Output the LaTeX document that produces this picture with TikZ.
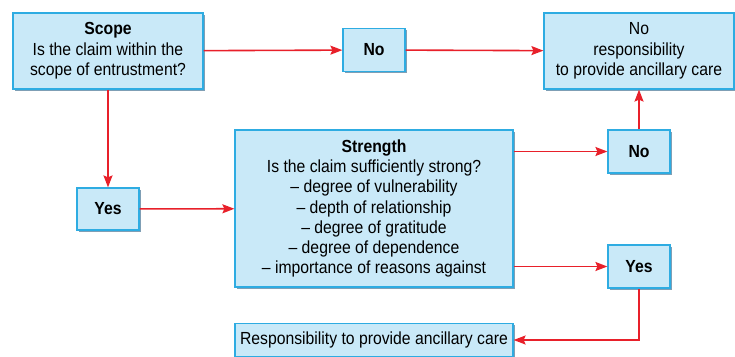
\documentclass[tikz,border=0pt]{standalone}
\usepackage{fontspec}
\setmainfont{Liberation Sans}[FakeStretch=0.9]
\usetikzlibrary{arrows.meta, shadows}

\definecolor{boxfill}{HTML}{C9E9F8}
\definecolor{boxline}{HTML}{2EACE2}
\definecolor{boxshade}{HTML}{7F9FB5}
\definecolor{arrowred}{HTML}{E8202A}

\begin{document}
\begin{tikzpicture}[
    x=1pt, y=-1pt,
    every node/.style={
      font=\fontsize{17.5}{20.3}\selectfont, align=center,
    },
    box/.style={
      rectangle, draw=boxline, line width=1.2pt, fill=boxfill,
      inner sep=0pt,
      drop shadow={shadow xshift=1.6pt, shadow yshift=-1.6pt,
        fill=boxshade, opacity=1},
    },
    answer/.style={
      box, minimum width=62pt, minimum height=43pt, font=\fontsize{17.5}{20.3}\selectfont\bfseries
    },
    arr/.style={
      draw=arrowred, line width=1.6pt,
      -{Stealth[length=12pt, width=9pt, inset=2pt]}
    }
    ]
  \useasboundingbox (0,0) rectangle (735,356);
  \node[box, minimum width=190pt, minimum height=76pt] (scope) at (108,51)
    {\textbf{Scope}\\Is the claim within the\\scope of entrustment?};
  \node[answer] (noa) at (374,50) {No};
  \node[box, minimum width=190pt, minimum height=76pt] (noresp) at (639,51)
    {No\\responsibility\\to provide ancillary care};
  \node[box, minimum width=278pt, minimum height=157pt] (strength) at (374,208.5)
    {\textbf{Strength}\\Is the claim sufficiently strong?\\
     -- degree of vulnerability\\-- depth of relationship\\
     -- degree of gratitude\\-- degree of dependence\\
     -- importance of reasons against};
  \node[answer, minimum height=42pt] (yesa) at (108,209) {Yes};
  \node[answer] (nob) at (639,151.5) {No};
  \node[answer] (yesb) at (639,266.5) {Yes};
  \node[box, minimum width=278pt, minimum height=33pt] (resp) at (374,340)
    {Responsibility to provide ancillary care};

  \draw[arr] (scope) -- (noa);
  \draw[arr] (noa) -- (noresp);
  \draw[arr] (scope) -- (yesa);
  \draw[arr] (yesa) -- (strength);
  \draw[arr] (strength.east |- nob) -- (nob);
  \draw[arr] (nob) -- (noresp);
  \draw[arr] (strength.east |- yesb) -- (yesb);
  \draw[arr] (yesb) |- (resp);
\end{tikzpicture}
\end{document}
